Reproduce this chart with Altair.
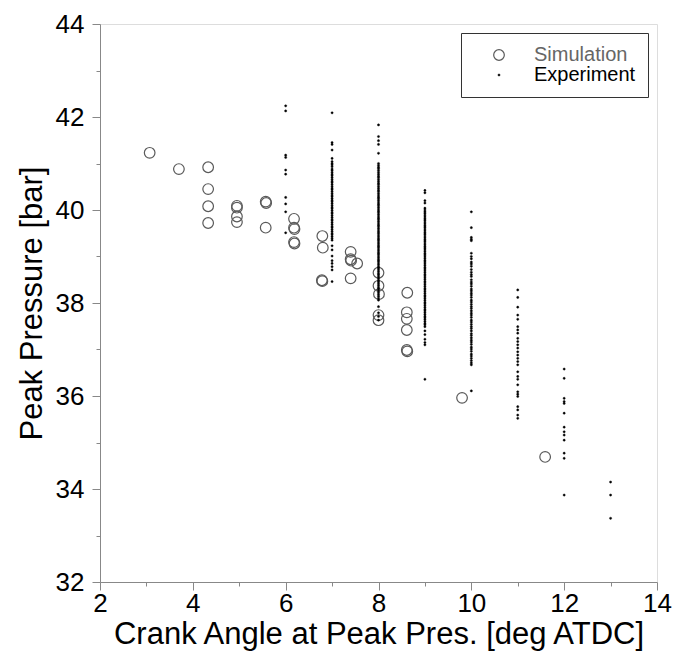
import altair as alt
import pandas as pd

# ---- Simulation (open circles) ----
sim_x = [3.07, 3.70, 4.33, 4.33, 4.33, 4.33, 4.95, 4.95, 4.95, 4.95,
         5.57, 5.58, 5.57, 6.18, 6.18, 6.19, 6.18, 6.19, 6.79, 6.80,
         6.78, 6.79, 7.40, 7.40, 7.41, 7.54, 7.40, 8.00, 8.00, 8.01,
         8.00, 8.00, 8.62, 8.61, 8.61, 8.61, 8.61, 8.62, 9.80, 11.59]
sim_y = [41.23, 40.88, 40.92, 40.45, 40.08, 39.72, 40.09, 40.05, 39.86, 39.74,
         40.18, 40.15, 39.62, 39.81, 39.62, 39.59, 39.31, 39.28, 39.44, 39.19,
         38.49, 38.47, 39.10, 38.94, 38.91, 38.85, 38.53, 38.65, 38.37, 38.19,
         37.74, 37.63, 38.22, 37.80, 37.66, 37.42, 36.99, 36.96, 35.96, 34.69]

# ---- Experiment (dots), one list per crank-angle column ----
exp_6 = [42.24, 42.13, 41.18, 41.13, 40.86, 40.77, 40.27, 40.13, 39.96, 39.51]
exp_7 = [42.09, 41.45, 41.41, 41.29, 41.11,
         41.04, 41.00, 40.97, 40.93, 40.88, 40.85, 40.81, 40.77, 40.74, 40.70,
         40.66, 40.62, 40.59, 40.55, 40.51, 40.47, 40.44, 40.40, 40.36, 40.32,
         40.29, 40.25, 40.21, 40.18, 40.14, 40.10, 40.06, 40.03, 39.99, 39.95,
         39.92, 39.88, 39.84, 39.80, 39.77, 39.73, 39.69, 39.65, 39.62, 39.58,
         39.54, 39.50, 39.47, 39.43, 39.39, 39.35,
         39.23, 39.14, 39.01, 38.91, 38.85, 38.78, 38.71, 38.46]
exp_8 = [41.83, 41.58, 41.49, 41.41, 41.22,
         41.00, 40.96, 40.92, 40.89, 40.85, 40.81, 40.77, 40.73, 40.70, 40.66,
         40.62, 40.58, 40.55, 40.51, 40.47, 40.43, 40.40, 40.36, 40.32, 40.28,
         40.25, 40.21, 40.17, 40.13, 40.10, 40.06, 40.02, 39.98, 39.95, 39.91,
         39.87, 39.83, 39.80, 39.76, 39.72, 39.68, 39.65, 39.61, 39.57, 39.53,
         39.50, 39.46, 39.42, 39.38, 39.35, 39.31, 39.27, 39.23, 39.20, 39.16,
         39.12, 39.08, 39.05, 39.01, 38.97, 38.93, 38.90, 38.86, 38.82, 38.78,
         38.75, 38.71, 38.67, 38.63, 38.60, 38.56, 38.52, 38.48, 38.45, 38.41,
         38.37, 38.33, 38.30, 38.26, 38.22, 38.18, 38.14, 38.10, 38.06,
         37.92, 37.79, 37.71, 37.63]
exp_9 = [40.42, 40.37, 40.20, 40.15,
         40.04, 40.00, 39.96, 39.93, 39.89, 39.85, 39.81, 39.78, 39.74, 39.70,
         39.66, 39.63, 39.59, 39.55, 39.51, 39.48, 39.44, 39.40, 39.36, 39.33,
         39.29, 39.25, 39.21, 39.18, 39.14, 39.10, 39.06, 39.03, 38.99, 38.95,
         38.91, 38.88, 38.84, 38.80, 38.76, 38.73, 38.69, 38.65, 38.61, 38.58,
         38.54, 38.50, 38.46, 38.43, 38.39, 38.35, 38.31, 38.28, 38.24, 38.20,
         38.16, 38.13, 38.09, 38.05, 38.01, 37.98, 37.94, 37.90, 37.86, 37.83,
         37.79, 37.75, 37.71, 37.68, 37.64, 37.60, 37.56, 37.53,
         37.49, 37.40, 37.32, 37.22, 37.15, 37.10, 36.36]
exp_10 = [39.96, 39.62, 39.41, 39.37, 39.34,
          39.07, 39.00, 38.95, 38.88, 38.84, 38.79, 38.72, 38.66, 38.61, 38.57,
          38.50, 38.45, 38.41, 38.36, 38.30, 38.26, 38.21, 38.17, 38.12, 38.06,
          38.02, 37.97, 37.92, 37.88, 37.83, 37.78, 37.74, 37.69, 37.63, 37.59,
          37.54, 37.49, 37.45, 37.40, 37.34, 37.30, 37.25, 37.20, 37.16, 37.11,
          37.05, 37.01, 36.96, 36.90, 36.86, 36.81, 36.76, 36.71, 36.67, 36.11]
exp_11 = [38.28, 38.12, 37.91, 37.74, 37.65, 37.49, 37.42, 37.35, 37.24, 37.17,
          37.10, 37.03, 36.95, 36.88, 36.81, 36.74, 36.67, 36.52, 36.42, 36.36,
          36.24, 36.09, 36.04, 35.99, 35.77, 35.70, 35.59, 35.52]
exp_12 = [36.58, 36.38, 35.95, 35.88, 35.84, 35.63, 35.33, 35.23, 35.16, 35.05,
          34.77, 34.66, 33.87]
exp_13 = [34.15, 33.87, 33.37]

series_names = ["Simulation", "Experiment"]
x_ticks = list(range(2, 15))
y_ticks = list(range(32, 45))

rows = [{"angle": a, "pressure": p, "series": "Simulation"} for a, p in zip(sim_x, sim_y)]
for col_x, col in [(6, exp_6), (7, exp_7), (8, exp_8), (9, exp_9),
                   (10, exp_10), (11, exp_11), (12, exp_12), (13, exp_13)]:
    rows += [{"angle": col_x, "pressure": p, "series": "Experiment"} for p in col]
df = pd.DataFrame(rows)

FONT = "Liberation Sans"

x_axis = alt.Axis(
    title="Crank Angle at Peak Pres. [deg ATDC]",
    values=x_ticks,
    labelExpr="datum.value % 2 == 0 ? datum.label : ''",
    tickSize={"condition": {"test": "datum.value % 2 == 0", "value": 8}, "value": 4},
    labelPadding=0, titlePadding=3,
    labelFontSize=26, titleFontSize=31, titleFontWeight="normal",
    labelFont=FONT, titleFont=FONT,
    grid=False, labelFlush=False,
)
y_axis = alt.Axis(
    title="Peak Pressure [bar]",
    values=y_ticks,
    labelExpr="datum.value % 2 == 0 ? datum.label : ''",
    tickSize={"condition": {"test": "datum.value % 2 == 0", "value": 8}, "value": 4},
    labelPadding=8, titlePadding=7,
    labelFontSize=26, titleFontSize=31, titleFontWeight="normal",
    labelFont=FONT, titleFont=FONT,
    grid=False, labelFlush=False,
)

legend = alt.Legend(
    title=None, orient="none", legendX=361, legendY=9,
    labelFontSize=20, labelFont=FONT,
    labelColor={"expr": "datum.label == 'Simulation' ? '#666666' : '#000000'"},
    padding=12, symbolOffset=16, labelOffset=25, rowPadding=0,
    strokeColor="#333333", fillColor="white", symbolStrokeWidth=1,
)

chart = alt.Chart(df).mark_point(opacity=1, shape="circle").encode(
    x=alt.X("angle:Q", scale=alt.Scale(domain=[2, 14], nice=False, zero=False), axis=x_axis),
    y=alt.Y("pressure:Q", scale=alt.Scale(domain=[32, 44], nice=False, zero=False), axis=y_axis),
    stroke=alt.Stroke("series:N", scale=alt.Scale(domain=series_names, range=["#5a5a5a", "#000000"]), legend=legend),
    fill=alt.Fill("series:N", scale=alt.Scale(domain=series_names, range=["transparent", "#000000"]), legend=legend),
    size=alt.Size("series:N", scale=alt.Scale(domain=series_names, range=[113, 5]), legend=legend),
    strokeWidth=alt.StrokeWidth("series:N", scale=alt.Scale(domain=series_names, range=[1.2, 0.4]), legend=None),
    order=alt.Order("series:N", sort="descending"),
).properties(
    width=557, height=558,
    autosize=alt.AutoSizeParams(type="none"),
    padding={"left": 100, "top": 24, "right": 19, "bottom": 72},
).configure_view(
    stroke="black", strokeWidth=1,
).configure_axis(
    domainColor="black", tickColor="black", labelColor="black", titleColor="black",
    labelFont=FONT, titleFont=FONT, domainWidth=1, tickWidth=1,
    titleFontWeight="normal",
).configure(background="white")

chart.save("out.html", embed_options={"renderer": "svg", "actions": False})
